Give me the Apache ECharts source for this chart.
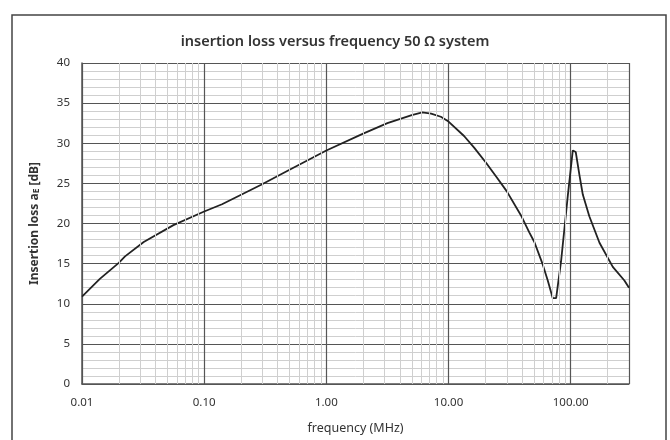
<!DOCTYPE html>
<html>
<head>
<meta charset="utf-8">
<script src="https://cdn.jsdelivr.net/npm/echarts@6/dist/echarts.min.js"></script>
<style>
  html, body { margin: 0; padding: 0; background: #fff; }
  #main { width: 670px; height: 440px; }
</style>
</head>
<body>
<div id="main"></div>
<script>
// frequency in MHz, loss in dB
var freq = [0.01, 0.014, 0.02, 0.0225, 0.032, 0.056, 0.1, 0.14, 0.29, 0.5, 1.0, 2.0, 3.16, 5, 6.1, 7.2,
            8.65, 10, 13.4, 16.2, 20.2, 25.2, 30, 39.2, 45.8, 50.4, 59, 64.9, 71.3, 76, 83.4, 94.6,
            104, 110, 118, 125.6, 142, 172, 221, 275, 300];
var loss = [10.9, 13.1, 15.1, 15.9, 17.7, 19.8, 21.5, 22.4, 24.8, 26.7, 29.1, 31.2, 32.5, 33.5, 33.85, 33.7,
            33.3, 32.7, 30.9, 29.45, 27.6, 25.6, 24.0, 21.0, 18.9, 17.7, 14.9, 12.9, 10.7, 10.7, 15.3, 23.4,
            29.1, 28.9, 26.0, 23.6, 20.9, 17.6, 14.6, 12.9, 12.0];

// minor vertical grid lines: 2..9 of each decade
var minorX = [];
for (var d = 0.01; d < 300; d *= 10) {
  for (var k = 2; k <= 9; k++) {
    var v = +(k * d).toPrecision(3);
    if (v < 300) minorX.push({ xAxis: v });
  }
}

var pts = [];
for (var i = 0; i < freq.length; i++) pts.push([freq[i], loss[i]]);

var chart = echarts.init(document.getElementById('main'));
chart.setOption({
  animation: false,
  title: {
    text: 'insertion loss versus frequency 50 Ω system',
    left: 'center',
    top: 29,
    textStyle: { fontFamily: 'Noto Sans', fontSize: 14.5, fontWeight: 600, color: '#333' }
  },
  graphic: [{
    type: 'rect',
    shape: { x: 12, y: 15, width: 654, height: 450 },
    style: { fill: 'none', stroke: '#444', lineWidth: 1.5 },
    silent: true
  }],
  grid: { left: 82, right: 41, top: 63, bottom: 47 },
  xAxis: {
    type: 'log',
    logBase: 10,
    min: 0.01,
    max: 300,
    z: 1,
    name: 'frequency (MHz)',
    nameLocation: 'middle',
    nameGap: 38,
    nameTextStyle: { fontFamily: 'Noto Sans', fontSize: 12.5, color: '#333' },
    axisLine: { show: true, lineStyle: { color: '#555', width: 1.5 } },
    axisTick: { show: false },
    axisLabel: {
      margin: 13,
      showMaxLabel: false,
      fontFamily: 'Noto Sans', fontSize: 11.5, color: '#333',
      formatter: function (v) { return v.toFixed(2); }
    },
    splitLine: { show: true, lineStyle: { color: '#555', width: 1.2 } }
  },
  yAxis: {
    type: 'value',
    min: 0,
    max: 40,
    interval: 5,
    z: 1,
    name: 'Insertion loss a{sub|E} [dB]',
    nameLocation: 'middle',
    nameGap: 41,
    nameTextStyle: {
      fontFamily: 'Noto Sans', fontSize: 12, fontWeight: 'bold', color: '#333',
      rich: { sub: { fontSize: 8.5, fontWeight: 'bold', verticalAlign: 'bottom', padding: [4, 0, 0, 0] } }
    },
    axisLine: { show: true, lineStyle: { color: '#555', width: 1.5 } },
    axisTick: { show: false },
    axisLabel: { margin: 12, fontFamily: 'Noto Sans', fontSize: 11.5, color: '#333' },
    splitLine: { show: true, lineStyle: { color: '#555', width: 1.2 } },
    minorTick: { show: false, splitNumber: 5 },
    minorSplitLine: { show: true, lineStyle: { color: '#cfcfcf', width: 1 } }
  },
  series: [{
    type: 'line',
    data: [],
    z: 0,
    silent: true,
    markLine: {
      silent: true,
      symbol: 'none',
      label: { show: false },
      lineStyle: { color: '#cfcfcf', width: 1, type: 'solid' },
      data: minorX
    }
  }, {
    type: 'line',
    data: pts,
    z: 3,
    showSymbol: false,
    smooth: false,
    lineStyle: { color: '#222', width: 1.8 }
  }]
});
</script>
</body>
</html>
